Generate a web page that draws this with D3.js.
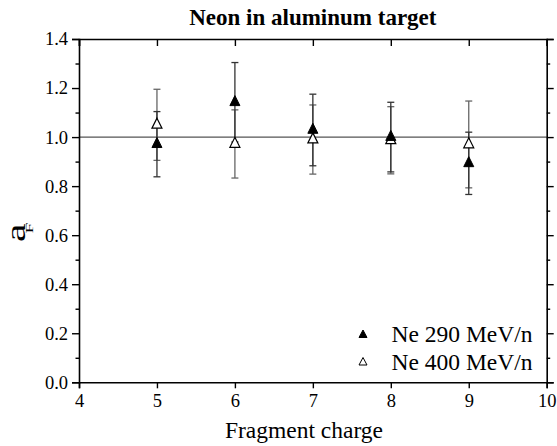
<!DOCTYPE html>
<html><head><meta charset="utf-8">
<script src="https://cdn.jsdelivr.net/npm/d3@7"></script>
<style>body{margin:0;background:#fff}svg{display:block}</style>
</head><body><svg id="c" width="557" height="446" font-family="Liberation Serif, Times New Roman, DejaVu Serif, serif"></svg>
<script>
const charges = [5, 6, 7, 8, 9];
const ne290 = [0.971, 1.142, 1.029, 1.000, 0.893];
const ne290Err = [0.133, 0.162, 0.146, 0.142, 0.127];
const ne400 = [1.050, 0.972, 0.990, 0.987, 0.970];
const ne400Err = [0.145, 0.139, 0.141, 0.137, 0.177];
const xTicks = [4, 5, 6, 7, 8, 9, 10];
const yTicks = [0.0, 0.2, 0.4, 0.6, 0.8, 1.0, 1.2, 1.4];
const yMinor = [0.1, 0.3, 0.5, 0.7, 0.9, 1.1, 1.3];
const seriesNames = ["Ne 290 MeV/n", "Ne 400 MeV/n"];
const title = "Neon in aluminum target";
const xTitle = "Fragment charge";

const FONT = "Liberation Serif, Times New Roman, DejaVu Serif, serif";
const svg = d3.select("#c");
const L = 79, R = 546.7, T = 39, B = 382.3;
const x = d3.scaleLinear().domain([4, 10]).range([L, R]);
const y = d3.scaleLinear().domain([0, 1.4]).range([B, T]);
const fmt = d3.format(".1f");

function styleAxis(g) {
  g.attr("font-family", FONT).attr("font-size", 18.5);
  g.select(".domain").attr("stroke", "#000").attr("stroke-width", 1.6);
  g.selectAll(".tick line").attr("stroke", "#000").attr("stroke-width", 1.4);
  g.selectAll("text").attr("font-family", FONT).attr("font-size", 18.5).attr("fill", "#000");
}

// reference line at 1.0
svg.append("line").attr("x1", L).attr("x2", R).attr("y1", y(1)).attr("y2", y(1))
  .attr("stroke", "#555").attr("stroke-width", 1.3);

// minor ticks
svg.append("g").attr("transform", `translate(${L},0)`).call(d3.axisLeft(y).tickValues(yMinor).tickSize(3.5).tickFormat(""))
  .call(styleAxis).call(g => g.select(".domain").remove());
svg.append("g").attr("transform", `translate(${R},0)`).call(d3.axisLeft(y).tickValues(yMinor).tickSize(-3.5).tickFormat(""))
  .call(styleAxis).call(g => g.select(".domain").remove());

// major axes
svg.append("g").attr("transform", `translate(${L},0)`)
  .call(d3.axisLeft(y).tickValues(yTicks).tickSize(7).tickPadding(4).tickFormat(fmt)).call(styleAxis);
svg.append("g").attr("transform", `translate(${R},0)`)
  .call(d3.axisLeft(y).tickValues(yTicks).tickSize(-7).tickFormat("")).call(styleAxis);
svg.append("g").attr("transform", `translate(0,${B})`)
  .call(d3.axisBottom(x).tickValues(xTicks).tickSize(6).tickPadding(6).tickFormat(d3.format("d"))).call(styleAxis);
svg.append("g").attr("transform", `translate(0,${T})`)
  .call(d3.axisBottom(x).tickValues(xTicks).tickSize(7).tickFormat("")).call(styleAxis);

// error bars
function errBars(vals, errs, col) {
  const g = svg.append("g").attr("stroke", col).attr("stroke-width", 1.3).attr("fill", "none");
  charges.forEach((c, i) => {
    const cx = x(c), y1 = y(vals[i] + errs[i]), y0 = y(vals[i] - errs[i]);
    g.append("line").attr("x1", cx).attr("x2", cx).attr("y1", y1).attr("y2", y0);
    g.append("line").attr("x1", cx - 3.5).attr("x2", cx + 3.5).attr("y1", y1).attr("y2", y1);
    g.append("line").attr("x1", cx - 3.5).attr("x2", cx + 3.5).attr("y1", y0).attr("y2", y0);
  });
}
errBars(ne400, ne400Err, "#666");
errBars(ne290, ne290Err, "#333");

function tri(w, h) {
  return `M0,${-2*h/3}L${w/2},${h/3}L${-w/2},${h/3}Z`;
}
// markers
svg.append("g").selectAll("path").data(charges).join("path")
  .attr("d", tri(10, 10)).attr("transform", (d, i) => `translate(${x(d)},${y(ne400[i])})`)
  .attr("fill", "#fff").attr("stroke", "#000").attr("stroke-width", 1.2);
svg.append("g").selectAll("path").data(charges).join("path")
  .attr("d", tri(10, 10)).attr("transform", (d, i) => `translate(${x(d)},${y(ne290[i])})`)
  .attr("fill", "#000").attr("stroke", "#000").attr("stroke-width", 1);

// legend
const leg = [{name: seriesNames[0], fill: "#000", ly: 334}, {name: seriesNames[1], fill: "#fff", ly: 361.5}];
leg.forEach(d => {
  svg.append("path").attr("d", tri(8, 7.5)).attr("transform", `translate(363,${d.ly + 1})`)
    .attr("fill", d.fill).attr("stroke", "#000").attr("stroke-width", 1);
  svg.append("text").attr("x", 391.5).attr("y", d.ly + 8).attr("font-size", 23.5).text(d.name);
});

// title
svg.append("text").attr("x", (L + R) / 2).attr("y", 25).attr("text-anchor", "middle")
  .attr("font-size", 23).attr("font-weight", "bold").text(title);
// x title
svg.append("text").attr("x", 304).attr("y", 438).attr("text-anchor", "middle")
  .attr("font-size", 23.5).text(xTitle);
// y title a_F
svg.append("text").attr("transform", "translate(25,242) rotate(-90)")
  .attr("font-size", 27.5).attr("textLength", 18.5).attr("lengthAdjust", "spacingAndGlyphs").text("a");
svg.append("text").attr("transform", "translate(33.3,233.5) rotate(-90)")
  .attr("font-size", 10).attr("textLength", 11).attr("lengthAdjust", "spacingAndGlyphs").text("F");
</script></body></html>
